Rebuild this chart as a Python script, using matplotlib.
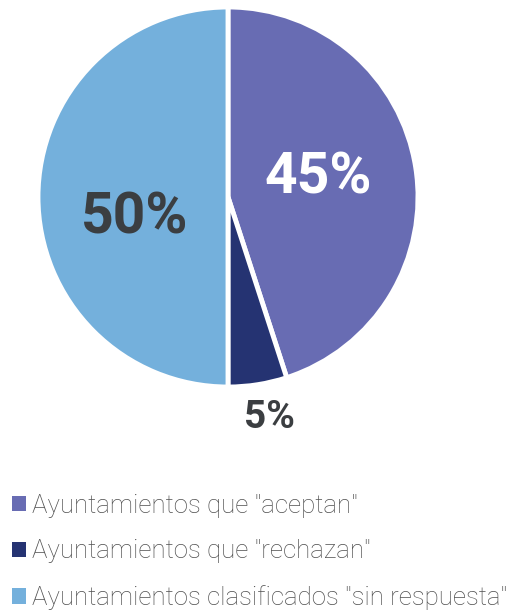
import matplotlib
matplotlib.use("Agg")
import matplotlib.pyplot as plt

labels = ['Ayuntamientos que "aceptan"', 'Ayuntamientos que "rechazan"',
          'Ayuntamientos clasificados "sin respuesta"']
values = [45, 5, 50]
pct_labels = ["45%", "5%", "50%"]
colors = ["#686cb3", "#253372", "#74b0dc"]

plt.rcParams['font.family'] = ['Roboto', 'DejaVu Sans']

W, H = 509, 612
fig = plt.figure(figsize=(W / 100, H / 100), dpi=100)
cx, cy, r = 228, 197, 190
ax = fig.add_axes([(cx - r) / W, (H - cy - r) / H, 2 * r / W, 2 * r / H])
wedges, _ = ax.pie(values, colors=colors, startangle=90, counterclock=False,
                   radius=1.0, wedgeprops=dict(edgecolor="white", linewidth=3.5))
ax.set_xlim(-1, 1)
ax.set_ylim(-1, 1)
ax.set_aspect("equal")
ax.axis("off")

ax.text(0.475, 0.10, pct_labels[0], ha="center", va="center", color="white",
        fontsize=41, fontweight="bold")
ax.text(-0.49, -0.11, pct_labels[2], ha="center", va="center", color="#3b3e41",
        fontsize=41, fontweight="bold")
ax.text(0.22, -1.163, pct_labels[1], ha="center", va="center", color="#3b3e41",
        fontsize=28, fontweight="bold", clip_on=False)

leg = fig.legend(wedges, labels, loc="upper left",
                 bbox_to_anchor=(4 / W, 1 - 486 / H), frameon=False,
                 fontsize=18.6, handlelength=0.55, handleheight=0.55,
                 handletextpad=0.22, labelspacing=0.84, borderpad=0.3,
                 borderaxespad=0)
for t in leg.get_texts():
    t.set_color("#505050")
    t.set_fontweight("light")
for h in leg.legend_handles:
    h.set_edgecolor("none")

fig.savefig("out.png", dpi=100)
